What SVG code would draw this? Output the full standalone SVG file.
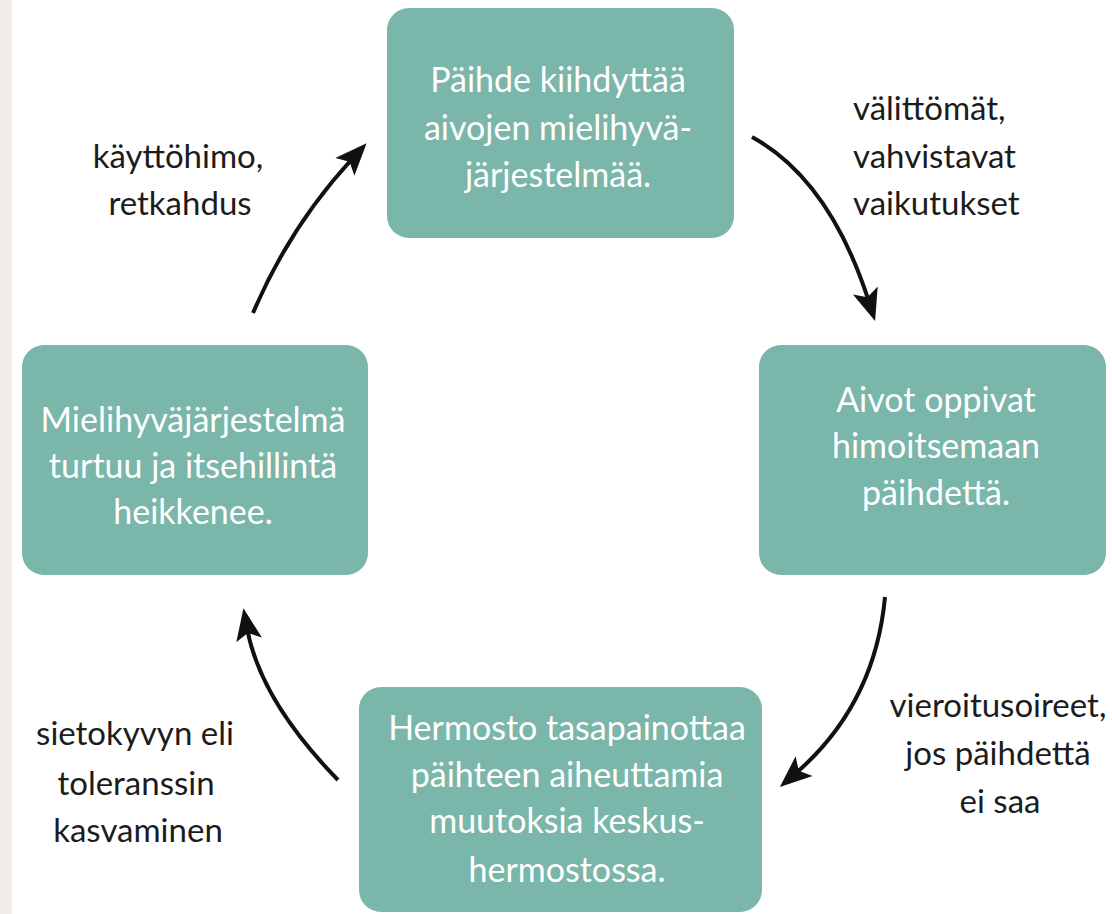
<svg xmlns="http://www.w3.org/2000/svg" width="1112" height="914" viewBox="0 0 1112 914">
<style>
.box{fill:#7ab6a9}
.bt{font-family:Lato,"Open Sans","Liberation Sans",sans-serif;font-size:34px;fill:#ffffff;text-anchor:middle}
.lb{font-family:Lato,"Open Sans","Liberation Sans",sans-serif;font-size:33px;fill:#1c1c1c}
.arr{fill:none;stroke:#111111;stroke-width:4}
</style>
<defs>
<marker id="ah" markerUnits="userSpaceOnUse" markerWidth="32" markerHeight="28" viewBox="0 0 32 28" refX="12" refY="14" orient="auto">
<path d="M0,1 L32,14 L0,27 L7,14 Z" fill="#111111"/>
</marker>
</defs>
<rect x="0" y="0" width="1112" height="914" fill="#ffffff"/>
<rect x="0" y="0" width="12" height="914" fill="#f1eee7"/>
<g id="node-top">
<rect class="box" x="387" y="8" width="347" height="230" rx="22"/>
<text class="bt" x="558" y="92">Päihde kiihdyttää</text>
<text class="bt" x="558" y="140">aivojen mielihyvä-</text>
<text class="bt" x="558" y="187">järjestelmää.</text>
</g>
<g id="node-right">
<rect class="box" x="759" y="345" width="347" height="230" rx="22"/>
<text class="bt" x="936" y="412">Aivot oppivat</text>
<text class="bt" x="936" y="458">himoitsemaan</text>
<text class="bt" x="936" y="505">päihdettä.</text>
</g>
<g id="node-bottom">
<rect class="box" x="359" y="687" width="403" height="225" rx="22"/>
<text class="bt" x="567" y="740">Hermosto tasapainottaa</text>
<text class="bt" x="567" y="787">päihteen aiheuttamia</text>
<text class="bt" x="567" y="833">muutoksia keskus-</text>
<text class="bt" x="567" y="882">hermostossa.</text>
</g>
<g id="node-left">
<rect class="box" x="22" y="345" width="346" height="230" rx="22"/>
<text class="bt" x="193" y="432">Mielihyväjärjestelmä</text>
<text class="bt" x="193" y="478">turtuu ja itsehillintä</text>
<text class="bt" x="193" y="524">heikkenee.</text>
</g>
<g id="connectors">
<path class="arr" d="M253,313 Q290,226 353,158" marker-end="url(#ah)"/>
<path class="arr" d="M752,137 Q830,180 869,302" marker-end="url(#ah)"/>
<path class="arr" d="M885,597 Q875,705 795,774" marker-end="url(#ah)"/>
<path class="arr" d="M338,780 Q260,700 247,628" marker-end="url(#ah)"/>
</g>
<g id="labels">
<text class="lb" text-anchor="middle" x="178" y="168">käyttöhimo,</text>
<text class="lb" text-anchor="middle" x="180" y="215">retkahdus</text>
<text class="lb" x="853" y="120">välittömät,</text>
<text class="lb" x="853" y="168">vahvistavat</text>
<text class="lb" x="853" y="215">vaikutukset</text>
<text class="lb" text-anchor="middle" x="998" y="717">vieroitusoireet,</text>
<text class="lb" text-anchor="middle" x="998" y="765">jos päihdettä</text>
<text class="lb" text-anchor="middle" x="1000" y="813">ei saa</text>
<text class="lb" text-anchor="middle" x="135" y="745">sietokyvyn eli</text>
<text class="lb" text-anchor="middle" x="136" y="795">toleranssin</text>
<text class="lb" text-anchor="middle" x="138" y="842">kasvaminen</text>
</g>
</svg>
